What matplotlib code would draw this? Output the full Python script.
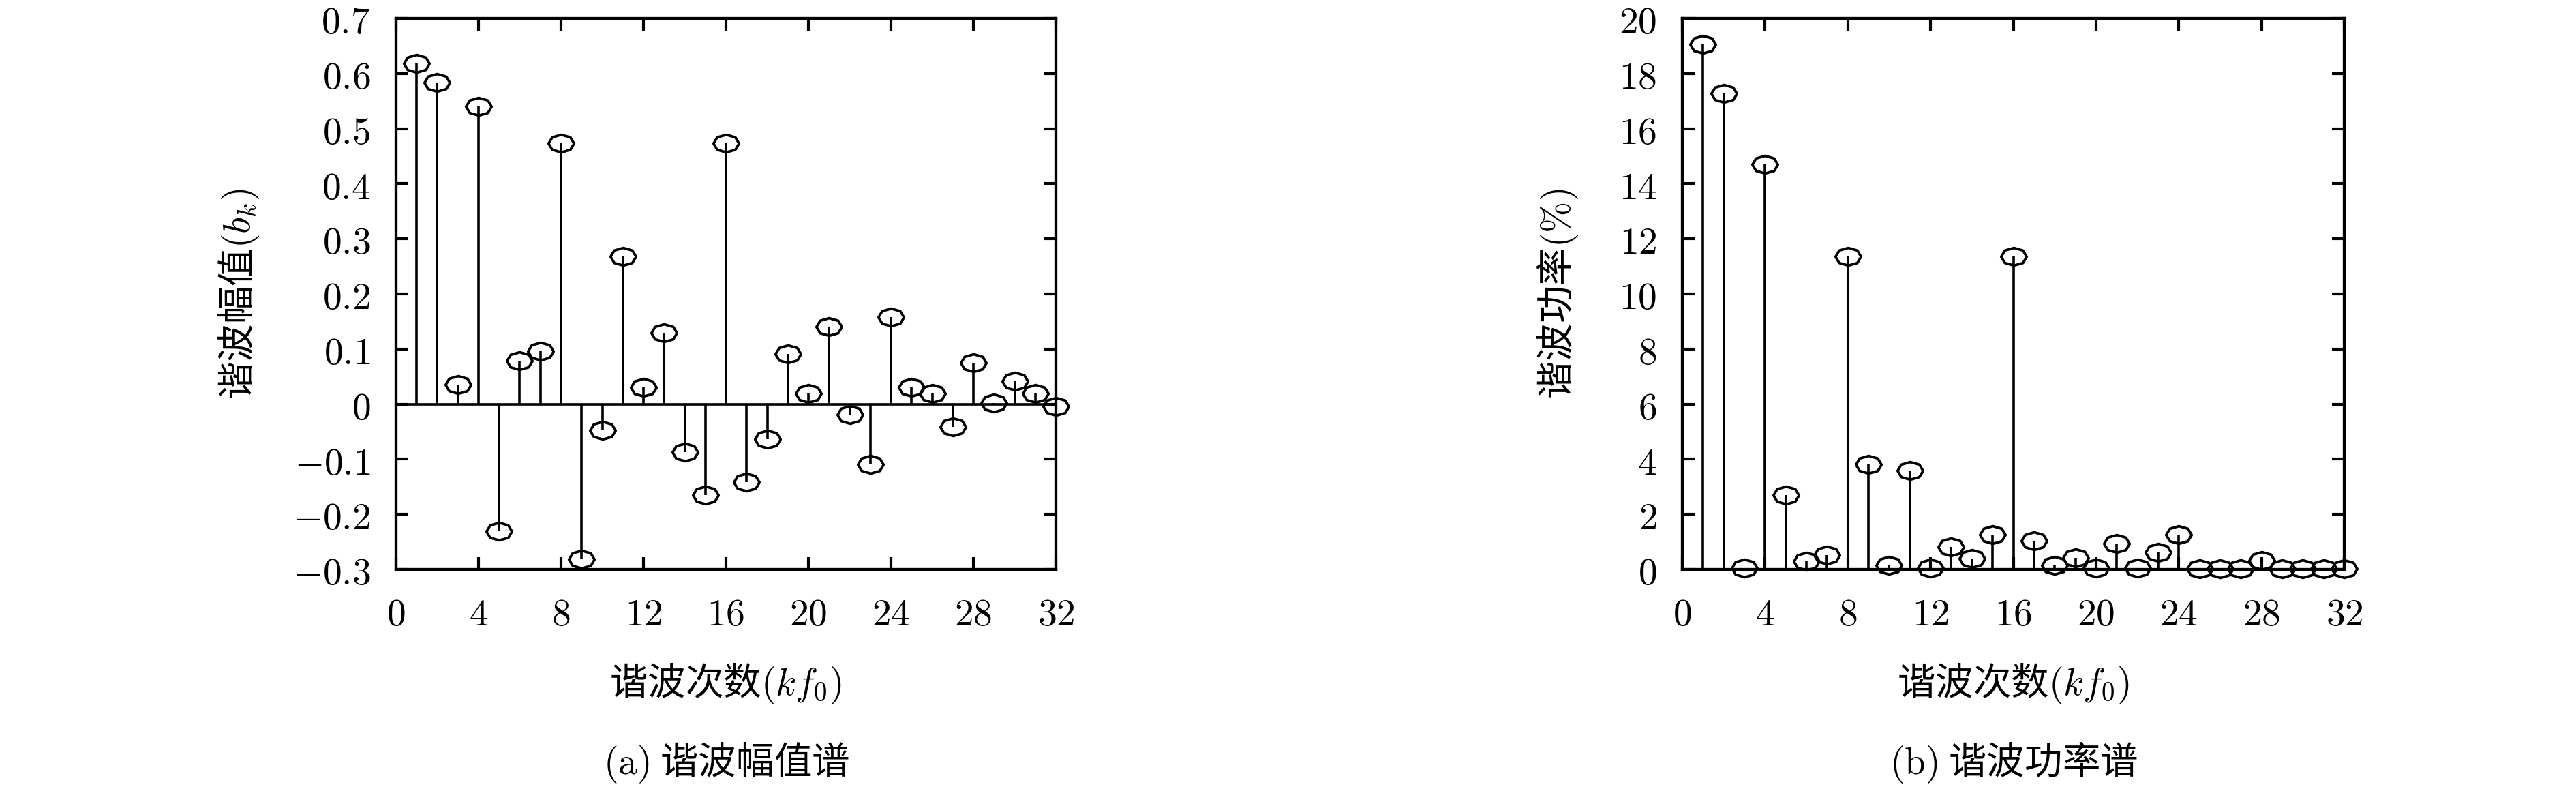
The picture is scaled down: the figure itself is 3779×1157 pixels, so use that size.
import numpy as np
import matplotlib
matplotlib.use("Agg")
import matplotlib.pyplot as plt
from matplotlib.path import Path

plt.rcParams["font.family"] = ["Noto Sans CJK SC", "DejaVu Sans"]
plt.rcParams["mathtext.fontset"] = "cm"

# 谐波次数
harmonic = np.arange(1, 33)
# 谐波幅值 b_k
amplitude = [0.618, 0.584, 0.035, 0.540, -0.231, 0.079, 0.096, 0.474,
             -0.281, -0.047, 0.268, 0.030, 0.130, -0.087, -0.165, 0.474,
             -0.142, -0.064, 0.091, 0.019, 0.141, -0.019, -0.109, 0.158,
             0.030, 0.019, -0.041, 0.075, 0.002, 0.041, 0.019, -0.004]
# 谐波功率 (%)
power = [19.06, 17.27, 0.06, 14.70, 2.70, 0.29, 0.51, 11.37,
         3.81, 0.16, 3.60, 0.06, 0.81, 0.39, 1.27, 11.37,
         1.04, 0.16, 0.41, 0.06, 0.94, 0.05, 0.61, 1.27,
         0.03, 0.02, 0.03, 0.31, 0.03, 0.03, 0.03, 0.02]

xticks = [0, 4, 8, 12, 16, 20, 24, 28, 32]
yticks_a = [-0.3, -0.2, -0.1, 0, 0.1, 0.2, 0.3, 0.4, 0.5, 0.6, 0.7]
yticks_b = [0, 2, 4, 6, 8, 10, 12, 14, 16, 18, 20]

FS = 40

# 扁的八边形圆圈，模仿 gnuplot 的点
ang = np.arange(8) * np.pi / 4
verts = np.column_stack([1.45 * np.cos(ang), np.sin(ang)])
verts = np.vstack([verts, verts[:1]])
codes = [Path.MOVETO] + [Path.LINETO] * 7 + [Path.CLOSEPOLY]
ring = Path(verts, codes)


def style_axis(ax, yticks):
    for sp in ax.spines.values():
        sp.set_linewidth(3.1)
    ax.tick_params(which="major", direction="in", length=13, width=3.0,
                   top=True, right=True, pad=27, labelsize=FS)
    ax.set_xticks(xticks, [f"${v}$" for v in xticks])
    ax.set_yticks(yticks, [f"${v:g}$" for v in yticks])
    ax.set_xlim(0, 32)
    ax.set_ylim(yticks[0], yticks[-1])


def draw_stem(ax, x, y):
    ax.vlines(x, 0, y, color="black", linewidth=2.6, zorder=2)
    ax.plot(x, y, linestyle="none", marker=ring, markersize=27,
            markerfacecolor="none", markeredgecolor="black",
            markeredgewidth=2.7, zorder=3, clip_on=False)


fig = plt.figure(figsize=(37.8, 11.57), dpi=100)
ax_a = fig.add_axes([0.1537, 0.2783, 0.2561, 0.6984])
ax_b = fig.add_axes([0.6529, 0.2783, 0.2569, 0.6984])

# (a) 谐波幅值谱
ax_a.axhline(0, color="black", linewidth=2.6, zorder=2)
draw_stem(ax_a, harmonic, amplitude)
style_axis(ax_a, yticks_a)

# (b) 谐波功率谱
draw_stem(ax_b, harmonic, power)
style_axis(ax_b, yticks_b)

# 轴标题与子图标题
fig.text(350 / 3780, 1 - 431 / 1157, r"谐波幅值$(b_k)$", rotation=90,
         ha="center", va="center", fontsize=FS, fontweight="light")
fig.text(2285 / 3780, 1 - 431 / 1157, r"谐波功率$(\%)$", rotation=90,
         ha="center", va="center", fontsize=FS, fontweight="light")
for cx in (1065 / 3780, 2954 / 3780):
    fig.text(cx, 1 - 1002 / 1157, r"谐波次数$(kf_0)$",
             ha="center", va="center", fontsize=FS, fontweight="light")
fig.text(1065 / 3780, 1 - 1118 / 1157, r"$(\mathrm{a})$ 谐波幅值谱",
         ha="center", va="center", fontsize=FS, fontweight="light")
fig.text(2954 / 3780, 1 - 1118 / 1157, r"$(\mathrm{b})$ 谐波功率谱",
         ha="center", va="center", fontsize=FS, fontweight="light")

fig.savefig("out.png", dpi=100)
